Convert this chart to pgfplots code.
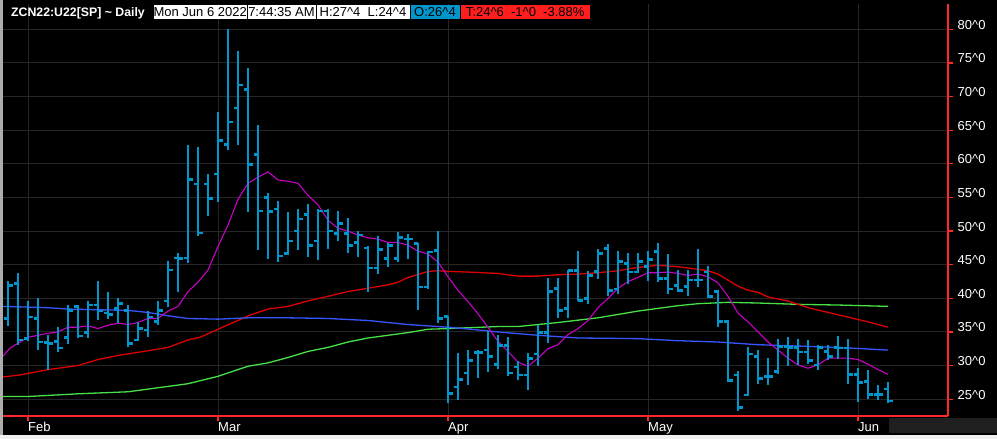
\documentclass[border=0pt]{standalone}
\usepackage{pgfplots}
\pgfplotsset{compat=1.18}
\usepackage{pgfplotstable}
\usepackage{fontspec}
\setmainfont{Liberation Sans}
\definecolor{barblue}{RGB}{0,150,204}
\definecolor{axisred}{RGB}{255,40,40}
\definecolor{gridgray}{RGB}{38,38,38}
\definecolor{maline}{RGB}{200,0,200}
\definecolor{redline}{RGB}{220,0,0}
\definecolor{blueline}{RGB}{55,85,255}
\definecolor{greenline}{RGB}{70,225,70}
\definecolor{boxred}{RGB}{255,30,30}

\pgfplotstableread{
i O H L C
-2 37.0 42.5 35.9 41.9
-1 42.2 43.7 33.1 33.8
0 34.0 39.6 33.7 37.2
1 37.0 40.0 32.3 33.5
2 33.4 34.5 29.4 33.3
3 33.6 35.7 32.0 32.6
4 34.2 39.0 33.2 38.2
5 38.8 39.0 34.1 34.4
6 34.9 39.6 34.1 39.0
7 39.0 42.5 36.7 38.1
8 37.8 41.0 36.9 37.6
9 38.5 40.0 36.3 39.2
10 38.2 39.0 32.7 33.3
11 33.8 36.5 33.6 35.5
12 35.3 38.1 34.2 37.2
13 36.5 39.6 36.0 38.2
14 39.6 45.5 38.7 44.2
15 46.0 46.7 41.0 45.9
16 46.0 62.8 45.2 57.7
17 57.0 62.5 49.2 49.7
18 57.0 58.5 52.2 54.8
19 58.5 67.7 54.3 63.5
20 62.9 80.0 62.0 66.2
21 68.3 76.8 62.8 71.7
22 71.0 74.2 52.8 59.9
23 61.4 65.8 47.2 53.0
24 55.0 55.7 45.8 52.9
25 53.3 54.5 45.4 46.3
26 46.7 52.8 46.4 48.5
27 50.0 53.3 47.2 51.8
28 52.5 54.0 46.2 47.8
29 48.5 53.3 45.7 53.0
30 53.0 53.3 47.3 50.0
31 49.6 53.0 48.5 51.1
32 49.6 52.0 46.7 47.8
33 48.3 50.0 46.2 49.4
34 47.5 47.8 41.0 44.5
35 44.5 49.3 43.6 47.3
36 45.9 48.2 44.7 47.8
37 45.9 49.8 45.4 49.0
38 48.8 49.5 45.8 48.8
39 48.2 48.2 38.2 41.7
40 41.7 47.0 41.4 46.9
41 47.1 50.0 36.3 37.0
42 37.3 37.3 24.5 25.8
43 26.8 31.9 24.9 27.9
44 28.9 32.3 27.1 30.8
45 31.9 32.3 28.2 31.9
46 32.3 35.2 29.0 31.3
47 30.2 34.6 29.5 33.0
48 33.0 34.2 28.5 28.9
49 29.8 30.7 27.8 28.6
50 28.6 31.8 26.4 31.1
51 31.7 36.0 30.0 34.9
52 34.9 43.0 33.3 41.0
53 41.5 43.0 37.1 38.2
54 38.5 44.2 37.1 44.1
55 44.1 47.0 39.6 39.7
56 40.0 44.0 39.2 43.4
57 44.0 47.4 42.9 46.7
58 47.4 48.0 40.3 41.2
59 41.4 47.0 40.7 45.5
60 45.2 46.7 42.2 43.9
61 43.9 46.7 43.7 45.5
62 44.7 47.0 42.5 45.8
63 47.0 48.2 42.4 42.9
64 42.9 46.6 40.6 41.4
65 41.9 44.2 41.0 41.2
66 41.8 44.2 40.3 42.7
67 42.7 47.3 41.7 42.7
68 43.9 44.8 40.1 40.3
69 41.0 41.2 35.7 36.5
70 36.5 36.7 27.5 27.8
71 28.6 29.2 23.3 23.8
72 25.6 32.7 25.5 31.7
73 31.3 32.3 27.3 28.1
74 28.4 31.1 27.1 28.4
75 29.1 34.0 28.8 32.8
76 32.8 34.2 30.0 32.7
77 32.7 34.0 30.1 32.0
78 32.0 33.8 30.2 30.8
79 30.1 33.0 29.3 32.7
80 32.1 33.0 30.8 31.3
81 32.7 34.4 31.0 32.6
82 32.6 34.0 27.2 28.7
83 28.7 29.7 24.6 27.5
84 27.6 29.3 25.0 25.7
85 25.7 27.1 24.9 25.7
86 26.5 27.5 24.5 24.75
}\ohlc

\begin{document}
\begin{tikzpicture}[x=1pt,y=1pt]
\fill[black] (0,0) rectangle (997,439);
\useasboundingbox (0,0) rectangle (997,439);
\fill[gray!65] (0,0) rectangle (2.5,439);
\fill[black!88] (889,6) rectangle (997,21);
\fill[black!6] (0,0) rectangle (997,4);
\begin{axis}[
  at={(3pt,23pt)}, anchor=south west,
  scale only axis, width=945pt, height=412pt,
  xmin=-2.5, xmax=92, ymin=22.5, ymax=83.76,
  axis x line*=bottom, axis y line*=right,
  axis line style={draw=axisred, line width=1.2pt},
  xtick={0,19,42,62,83}, xticklabels={Feb,Mar,Apr,May,Jun},
  ytick={25,30,...,80},
  yticklabels={25\textasciicircum 0,30\textasciicircum 0,35\textasciicircum 0,40\textasciicircum 0,45\textasciicircum 0,50\textasciicircum 0,55\textasciicircum 0,60\textasciicircum 0,65\textasciicircum 0,70\textasciicircum 0,75\textasciicircum 0,80\textasciicircum 0},
  grid=major, major grid style={draw=gridgray, line width=0.9pt},
  tick style={draw=axisred, line width=1.2pt}, tick align=outside, major tick length=5pt,
  ticklabel style={text=white, font=\fontsize{13}{15}\selectfont, inner sep=0pt},
  xticklabel style={anchor=north west, yshift=-1pt},
  yticklabel style={anchor=base west, xshift=4.5pt},
]
\addplot[greenline, line width=1.3pt] coordinates {(-2.5,25.4) (0,25.4) (5,25.8) (10,26.1) (14,26.9) (16,27.3) (19,28.4) (22,29.9) (24,30.4) (26,31.2) (28,32.1) (30,32.7) (32,33.5) (34,34.1) (36,34.5) (38,34.9) (40,35.4) (42,35.5) (47,35.8) (49,35.8) (53,36.4) (57,37.1) (61,38.1) (65,38.9) (67,39.2) (70,39.4) (73,39.3) (77,39.1) (81,39.0) (86,38.8)};
\addplot[redline, line width=1.3pt] coordinates {(-2.5,28.3) (-0.8,28.6) (2,29.4) (5,30.0) (7,30.9) (9,31.5) (12,32.2) (14,32.7) (16,33.8) (17.2,34.2) (19,35.4) (22.2,37.5) (24,38.4) (26,38.8) (28,39.6) (30,40.3) (32,41.0) (34,41.5) (36,42.0) (37,42.4) (38,43.1) (40,44.0) (41,44.1) (42,44.0) (44,43.9) (47,43.7) (49,43.3) (51,43.3) (53,43.5) (55,43.6) (57,43.8) (59,44.1) (61,44.6) (63,44.9) (65,44.7) (67,44.3) (68,44.1) (69,43.6) (70,42.7) (71,41.8) (72,41.2) (73,40.9) (74,40.2) (76,39.6) (78,38.6) (80,37.9) (82,37.2) (84,36.5) (86,35.7)};
\addplot[blueline, line width=1.3pt] coordinates {(-2.5,38.8) (2,38.6) (4,38.4) (7,38.3) (10,38.2) (12,37.9) (14,37.4) (16,37.0) (19,36.9) (22,37.1) (26,37.1) (30,37.0) (34,36.7) (38,36.1) (42,35.7) (45,35.3) (47,35.0) (51,34.5) (55,34.1) (61,34.0) (65,33.7) (69,33.5) (73,33.1) (77,32.9) (81,32.7) (86,32.3)};
\addplot[maline, line width=1.1pt] coordinates {(-2.5,31.4) (-1.8,32.6) (0,34.2) (2,34.8) (3,35.0) (4,35.7) (5,35.7) (6,35.9) (7,35.5) (8,36.0) (9,36.3) (10,36.1) (11,36.4) (12,37.0) (13,37.0) (14,38.1) (15,38.8) (16,41.0) (17,42.4) (18,44.2) (19,47.7) (20,50.9) (21,54.7) (22,57.1) (23,58.0) (24,58.8) (25,57.6) (26,57.4) (27,57.1) (28,55.3) (29,53.9) (30,51.6) (31,50.4) (32,50.0) (33,49.4) (34,49.0) (35,48.8) (36,48.3) (37,48.3) (38,47.9) (39,47.0) (40,46.6) (41,45.4) (42,43.2) (43,41.2) (44,39.5) (45,37.7) (46,35.7) (47,33.6) (48,32.1) (49,30.5) (50,29.9) (51,31.1) (52,32.5) (53,33.1) (54,34.6) (55,35.5) (56,36.7) (57,38.6) (58,40.0) (59,41.5) (60,42.5) (61,43.1) (62,43.8) (63,43.8) (64,43.9) (65,43.7) (66,43.4) (67,43.6) (68,43.2) (69,42.3) (70,40.3) (71,37.8) (72,36.5) (73,35.0) (74,33.5) (75,32.3) (76,31.1) (77,30.1) (78,29.6) (79,30.1) (80,31.1) (81,31.1) (82,31.1) (83,30.9) (84,30.2) (85,29.4) (86,28.7)};
% high-low
\addplot[draw=none, mark=none, error bars/.cd, y dir=both, y explicit, error mark=none,
  error bar style={draw=barblue, line width=2.2pt}]
  table[x=i, y=C, y error plus expr=\thisrow{H}-\thisrow{C}, y error minus expr=\thisrow{C}-\thisrow{L}] {\ohlc};
% open
\addplot[draw=none, mark=none, error bars/.cd, x dir=minus, x fixed=0.45, error mark=none,
  error bar style={draw=barblue, line width=2.7pt}]
  table[x=i, y=O] {\ohlc};
% close
\addplot[draw=none, mark=none, error bars/.cd, x dir=plus, x fixed=0.45, error mark=none,
  error bar style={draw=barblue, line width=2.7pt}]
  table[x=i, y=C] {\ohlc};
\end{axis}
% title bar
\node[anchor=base west, inner sep=0pt, text=white, font=\bfseries\fontsize{12.3}{15}\selectfont] at (11,422) {ZCN22:U22[SP] \textasciitilde{} Daily};
\fill[white] (154,419.7) rectangle (246.5,434);
\fill[white] (247.5,419.7) rectangle (315.5,434);
\fill[white] (316.5,419.7) rectangle (409.5,434);
\fill[barblue] (410.5,419.7) rectangle (459.5,434);
\fill[boxred] (460.5,419.7) rectangle (590,434);
\begin{scope}[every node/.style={anchor=base, inner sep=0pt, text=black, font=\fontsize{13}{15}\selectfont}]
\node at (200.2,422) {Mon Jun 6 2022};
\node at (281.5,422) {7:44:35 AM};
\node at (363,422) {H:27\textasciicircum 4\ \ L:24\textasciicircum 4};
\node at (435,422) {O:26\textasciicircum 4};
\node at (525.2,422) {T:24\textasciicircum 6\ \ -1\textasciicircum 0\ \ -3.88\%};
\end{scope}
\end{tikzpicture}
\end{document}
